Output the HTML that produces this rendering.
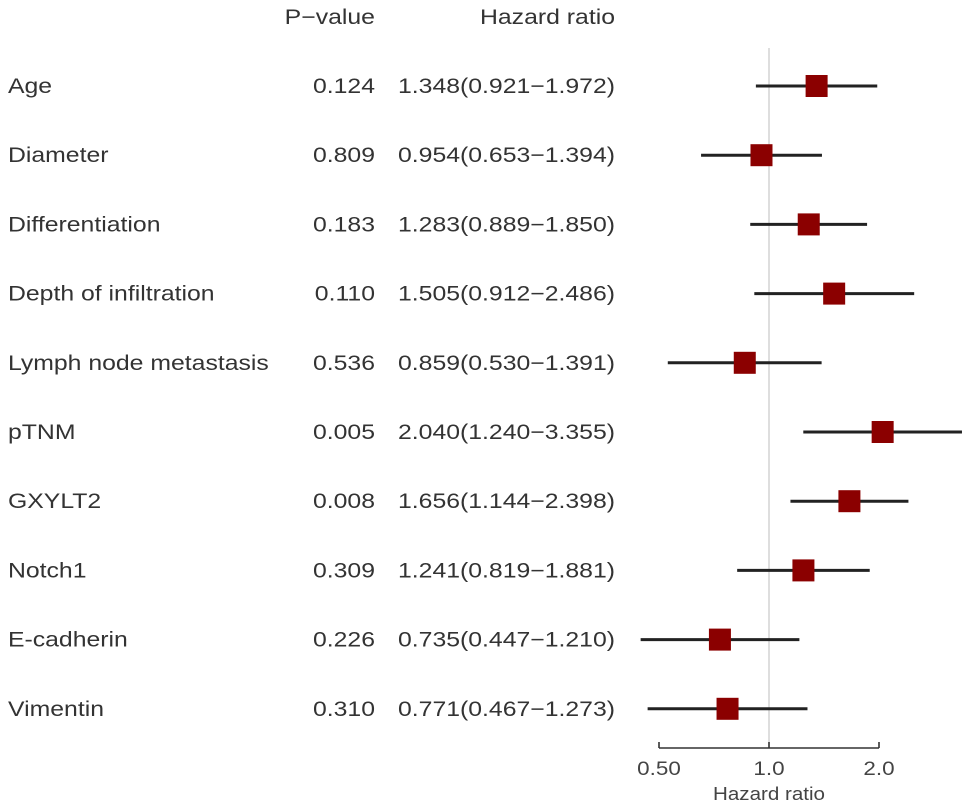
<!DOCTYPE html>
<html><head><meta charset="utf-8"><style>
html,body{margin:0;padding:0;background:#fff;}
svg{display:block;font-family:"Liberation Sans",Arial,sans-serif;}
</style></head><body>
<svg width="969" height="807" xmlns="http://www.w3.org/2000/svg">
<rect width="969" height="807" fill="#fff"/>
<g font-size="21" fill="#333" class="st">
<text x="375" y="24" text-anchor="end">P−value</text>
<text x="615" y="24" text-anchor="end">Hazard ratio</text>
</g>
<line x1="769" y1="48" x2="769" y2="748" stroke="#c8c8c8" stroke-width="1.2"/>
<g id="rows" font-size="21" fill="#333"></g>
<g stroke="#333" stroke-width="1.6" fill="none">
<line x1="659" y1="748" x2="879" y2="748"/>
<line x1="659" y1="748" x2="659" y2="742"/>
<line x1="769" y1="748" x2="769" y2="742"/>
<line x1="879" y1="748" x2="879" y2="742"/>
</g>
<g font-size="19" fill="#444" text-anchor="middle" class="st">
<text x="659" y="775">0.50</text>
<text x="769" y="775">1.0</text>
<text x="879" y="775">2.0</text>
</g>
<text x="769" y="800" font-size="18" fill="#444" text-anchor="middle" textLength="112" lengthAdjust="spacingAndGlyphs">Hazard ratio</text>
<g id="plot"></g>
</svg>
<script>
var d=[["Age","0.124","1.348(0.921−1.972)",1.348,0.921,1.972],
["Diameter","0.809","0.954(0.653−1.394)",0.954,0.653,1.394],
["Differentiation","0.183","1.283(0.889−1.850)",1.283,0.889,1.850],
["Depth of infiltration","0.110","1.505(0.912−2.486)",1.505,0.912,2.486],
["Lymph node metastasis","0.536","0.859(0.530−1.391)",0.859,0.530,1.391],
["pTNM","0.005","2.040(1.240−3.355)",2.040,1.240,3.355],
["GXYLT2","0.008","1.656(1.144−2.398)",1.656,1.144,2.398],
["Notch1","0.309","1.241(0.819−1.881)",1.241,0.819,1.881],
["E-cadherin","0.226","0.735(0.447−1.210)",0.735,0.447,1.210],
["Vimentin","0.310","0.771(0.467−1.273)",0.771,0.467,1.273]];
function X(v){return 769+110.5*Math.log2(v);}
var s="",p="";
d.forEach(function(r,i){var y=86+i*69.2;
s+='<text class="st" x="8" y="'+(y+7)+'">'+r[0]+'</text><text class="st" x="375" y="'+(y+7)+'" text-anchor="end">'+r[1]+'</text><text class="st" x="615" y="'+(y+7)+'" text-anchor="end">'+r[2]+'</text>';
p+='<line x1="'+X(r[4])+'" y1="'+y+'" x2="'+X(r[5])+'" y2="'+y+'" stroke="#222" stroke-width="3"/><rect x="'+(X(r[3])-11)+'" y="'+(y-11)+'" width="22" height="22" fill="#8b0000"/>';});
document.getElementById("rows").innerHTML=s;
document.getElementById("plot").innerHTML=p;
var ts=document.querySelectorAll("text.st, .st text");
ts.forEach(function(t){var w=t.getComputedTextLength();t.setAttribute("textLength",(w*1.18).toFixed(1));t.setAttribute("lengthAdjust","spacingAndGlyphs");});
</script>
</body></html>
